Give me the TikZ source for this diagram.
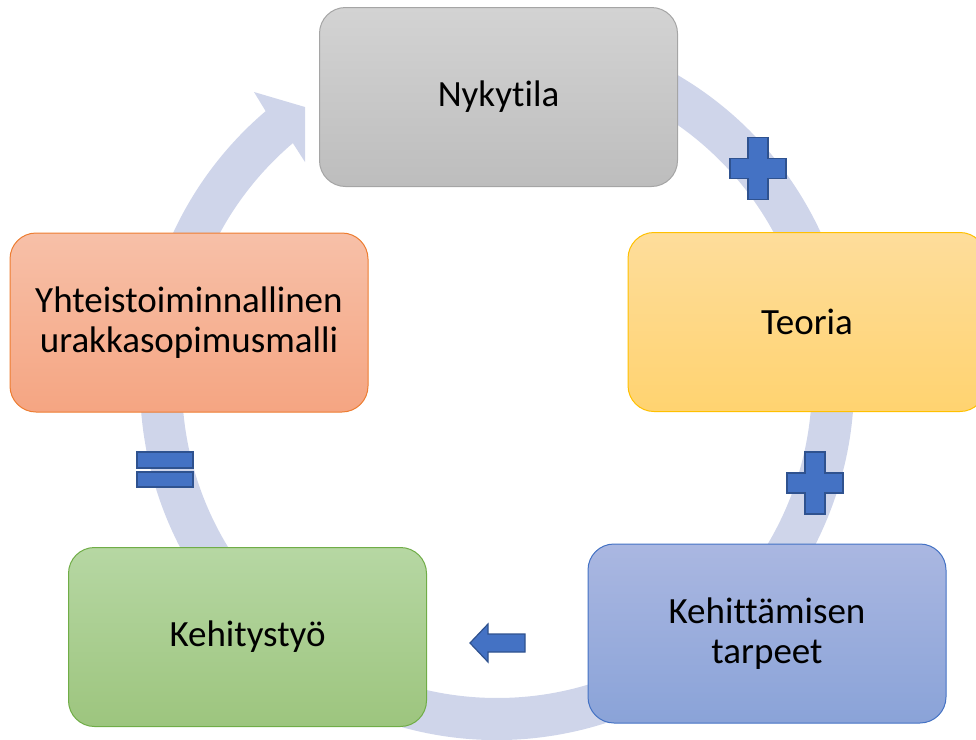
\documentclass[tikz,border=0pt]{standalone}
\usepackage{fontspec}
\setmainfont{Carlito}[Ligatures={NoCommon}]
\usepackage{tikz}
\usetikzlibrary{calc}
\definecolor{myring}{RGB}{207,213,234}
\definecolor{mysym}{RGB}{68,114,196}
\definecolor{mysymdk}{RGB}{47,82,143}
\definecolor{graytop}{RGB}{211,211,211}
\definecolor{graybot}{RGB}{189,189,189}
\definecolor{grayline}{RGB}{165,165,165}
\definecolor{goldtop}{RGB}{254,221,155}
\definecolor{goldbot}{RGB}{255,211,112}
\definecolor{goldline}{RGB}{255,192,0}
\definecolor{orgtop}{RGB}{247,192,168}
\definecolor{orgbot}{RGB}{245,165,130}
\definecolor{orgline}{RGB}{237,125,49}
\definecolor{grntop}{RGB}{182,215,163}
\definecolor{grnbot}{RGB}{157,197,126}
\definecolor{grnline}{RGB}{112,173,71}
\definecolor{blutop}{RGB}{170,183,225}
\definecolor{blubot}{RGB}{138,163,216}
\definecolor{bluline}{RGB}{68,114,196}
\tikzset{
  stage/.style={rectangle, rounded corners=13pt, minimum width=179pt, minimum height=89.5pt,
    align=center, font=\fontsize{18.5}{20}\selectfont, line width=0.5pt, text=black},
  sym/.style={fill=mysym, draw=mysymdk, line width=0.6pt},
  ring/.style={fill=myring, draw=none}
}

\begin{document}
\begin{tikzpicture}[x=0.5pt, y=-0.5pt]
\useasboundingbox (0,0) rectangle (976,740);
\clip (0,0) rectangle (976,740);
%--- ring with head (clockwise) ---
\coordinate (ctr) at (497,383);
\fill[ring] ($(ctr)+(-65:357)$) arc[start angle=-65, end angle=229.6, radius=357]
  -- (254,92) -- (305,107) -- (305,162) -- ($(ctr)+(229.6:315)$)
  arc[start angle=229.6, end angle=-65, radius=315] -- cycle;

%--- stages ---
\node[stage, draw=grayline, top color=graytop, bottom color=graybot] (nyky) at (498.5,97) {Nykytila};
\node[stage, draw=goldline, top color=goldtop, bottom color=goldbot] (teoria) at (807,322) {Teoria};
\node[stage, draw=bluline, top color=blutop, bottom color=blubot] (tarpeet) at (767,633.5) {Kehittämisen\\tarpeet};
\node[stage, draw=grnline, top color=grntop, bottom color=grnbot] (kehitys) at (247.5,637) {Kehitystyö};
\node[stage, draw=orgline, top color=orgtop, bottom color=orgbot] (malli) at (189,322.5) {Yhteistoiminnallinen\\urakkasopimusmalli};

%--- operators ---
% plus signs
\foreach \px/\py in {758/168.5, 815/483} {
  \draw[sym] (\px-10,\py-31) -- (\px+10,\py-31) -- (\px+10,\py-10) -- (\px+28,\py-10)
    -- (\px+28,\py+10) -- (\px+10,\py+10) -- (\px+10,\py+31) -- (\px-10,\py+31)
    -- (\px-10,\py+10) -- (\px-28,\py+10) -- (\px-28,\py-10) -- (\px-10,\py-10) -- cycle;
}
% equals
\draw[sym] (137,452) rectangle (193,468);
\draw[sym] (137,472) rectangle (193,487);
% arrow left
\draw[sym] (470,643) -- (488,624) -- (488,634) -- (525,634) -- (525,652) -- (488,652) -- (488,662) -- cycle;
\end{tikzpicture}
\end{document}
